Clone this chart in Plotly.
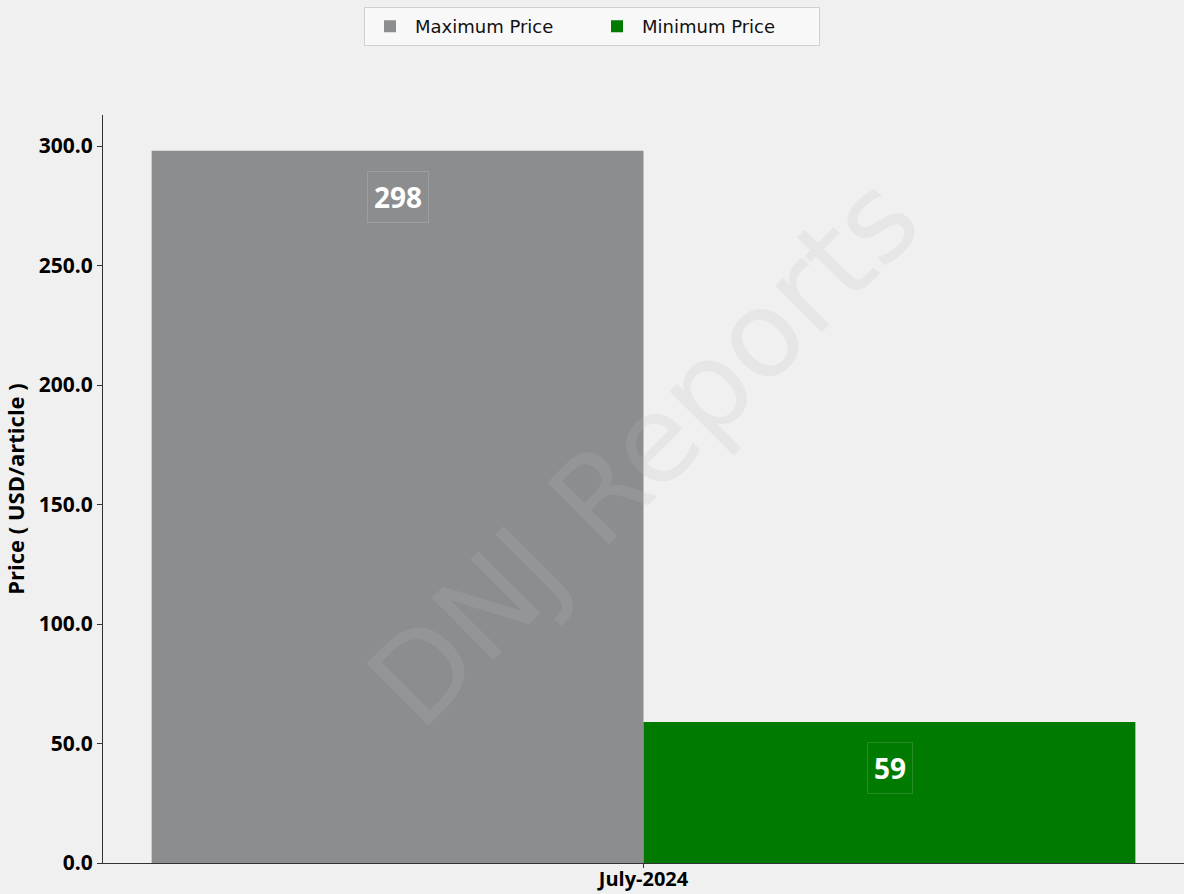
import plotly.graph_objects as go

categories = ["July-2024"]
max_price = [298]
min_price = [59]
series_names = ["Maximum Price", "Minimum Price"]
y_ticks = [0, 50, 100, 150, 200, 250, 300]
y_tick_labels = ["0.0", "50.0", "100.0", "150.0", "200.0", "250.0", "300.0"]

fig = go.Figure()
fig.add_trace(go.Bar(x=categories, y=max_price, name=series_names[0],
                     marker=dict(color="#8c8d8f", line=dict(width=0))))
fig.add_trace(go.Bar(x=categories, y=min_price, name=series_names[1],
                     marker=dict(color="#007a00", line=dict(width=0))))

for i, vals in enumerate([max_price, min_price]):
    for c, v in zip(categories, vals):
        fig.add_annotation(x=c, y=v, text=f"<b>{v}</b>", showarrow=False,
                           xshift=(-1 if i == 0 else 1) * 246, yshift=-46,
                           font=dict(family="Open Sans", size=28, color="white"),
                           bordercolor="rgba(255,255,255,0.15)", borderwidth=1,
                           borderpad=6, xref="x", yref="y")

fig.add_annotation(x=0.5, y=0.55, xref="paper", yref="paper", text="DNJ Reports",
                   showarrow=False, textangle=-45,
                   font=dict(family="DejaVu Sans", size=120, color="rgba(190,190,190,0.18)"))

fig.update_layout(
    width=1184, height=894,
    paper_bgcolor="#f0f0f0", plot_bgcolor="rgba(0,0,0,0)",
    margin=dict(l=103, r=0, t=115, b=31, autoexpand=False),
    barmode="group", bargap=0.09, bargroupgap=0,
    showlegend=True,
    legend=dict(orientation="h", x=0.5, xanchor="center", xref="container",
                y=0.992, yref="container", yanchor="top",
                bgcolor="rgba(248,248,248,0.9)", bordercolor="#d0d0d0", borderwidth=1,
                font=dict(family="DejaVu Sans", size=18, color="#111"),
                itemwidth=40, entrywidth=172, entrywidthmode="pixels",
                traceorder="normal"),
    xaxis=dict(showline=True, linecolor="#333", linewidth=1, ticks="outside", ticklen=4,
               tickcolor="#333", automargin=False, ticklabelstandoff=-6,
               tickfont=dict(family="Open Sans", size=20, color="black", weight="bold"),
               showgrid=False, zeroline=False),
    yaxis=dict(range=[0, 313], tickvals=y_ticks, ticktext=y_tick_labels,
               showline=True, linecolor="#333", linewidth=1, ticks="outside", ticklen=5,
               tickcolor="#333", showgrid=False, zeroline=False, automargin=False,
               tickfont=dict(family="Open Sans", size=21, color="black", weight="bold"),
               title=dict(text="Price ( USD/article )", standoff=12,
                          font=dict(family="Open Sans", size=22, color="black", weight="bold"))),
)

fig.write_html("out.html", config={"displayModeBar": False},
               post_script="document.body.style.margin='0';document.body.style.overflow='hidden';")
